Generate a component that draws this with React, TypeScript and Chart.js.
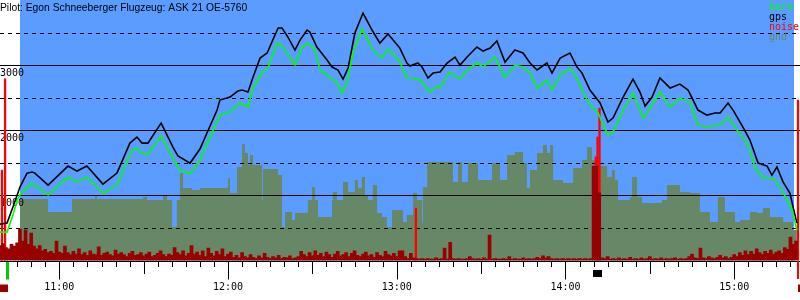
import React, { useEffect, useRef } from 'react';
import { Chart, registerables } from 'chart.js';

Chart.register(...registerables);

// Time axis: minutes after 10:00 local time
const X_MIN = 38.9;
const X_MAX = 323.4;
const Y_MIN = 0;
const Y_MAX = 4000;

const titleText = 'Pilot: Egon Schneeberger Flugzeug: ASK 21 OE-5760';
const legendLabels = ['baro', 'gps', 'noise', 'gnd'];

const hourTicks = [60, 120, 180, 240, 300];
const hourLabels = ['11:00', '12:00', '13:00', '14:00', '15:00'];
const altSolid = [1000, 2000, 3000];
const altDashed = [500, 1500, 2500, 3500];
const altLabels = ['1000', '2000', '3000'];

const flightStart = 46.0;
const flightEnd = 321.3;
const takeoffMark = 41.4;
const engineMarks = [38.9, 322.7];
const landingMark = 322.7;
const blackMark = 249.8;

const gpsTime = [38.9, 41.4, 43.5, 46.0, 48.5, 50.3, 51.3, 56.0, 63.1, 66.3, 69.8, 75.5, 80.5, 85.1, 87.6, 89.4, 91.5, 96.2, 100.4, 102.2, 106.5, 110.0, 112.5, 116.1, 117.1, 120.7, 123.5, 125.0, 127.1, 128.9, 131.4, 133.9, 135.6, 137.8, 139.2, 141.3, 143.8, 145.6, 148.1, 149.1, 151.6, 155.2, 157.0, 159.1, 160.9, 162.7, 165.1, 168.0, 171.2, 174.0, 176.9, 181.1, 183.6, 184.7, 187.5, 189.0, 191.1, 192.9, 195.4, 197.9, 200.7, 202.5, 205.0, 208.5, 210.7, 213.2, 215.6, 218.5, 222.0, 224.9, 227.4, 229.9, 233.4, 235.2, 238.1, 241.6, 244.1, 245.9, 248.7, 252.3, 255.1, 256.9, 260.5, 264.0, 266.5, 268.3, 270.8, 273.6, 277.2, 280.7, 283.6, 285.4, 287.1, 290.3, 293.2, 295.0, 297.8, 299.6, 303.1, 305.6, 308.5, 311.7, 313.4, 315.2, 317.4, 319.8, 322.3];
const gpsAlt = [559, 574, 820, 1127, 1342, 1358, 1342, 1158, 1450, 1373, 1450, 1174, 1342, 1803, 1895, 1803, 1803, 2110, 1742, 1604, 1496, 1711, 1957, 2310, 2464, 2510, 2602, 2617, 2587, 2817, 3109, 3186, 3355, 3570, 3570, 3431, 3232, 3385, 3539, 3508, 3278, 3078, 2971, 2925, 2786, 2955, 3493, 3800, 3539, 3339, 3478, 3262, 3032, 2986, 3032, 2971, 2802, 2878, 2894, 3032, 3124, 3001, 3124, 3278, 3216, 3262, 3370, 3047, 3232, 3186, 3032, 2925, 3032, 2878, 3109, 3186, 2971, 2878, 2617, 2418, 2126, 2187, 2510, 2786, 2587, 2372, 2510, 2802, 2648, 2709, 2617, 2464, 2310, 2233, 2264, 2264, 2418, 2310, 2049, 1849, 1496, 1450, 1312, 1435, 1204, 1035, 574];

const baroTime = [38.9, 41.4, 43.5, 45.0, 46.4, 50.3, 56.0, 63.1, 66.3, 69.8, 75.5, 80.5, 85.8, 87.6, 89.4, 91.5, 96.2, 102.9, 106.5, 110.0, 113.6, 117.1, 120.7, 124.2, 127.1, 128.9, 132.1, 134.2, 137.4, 139.5, 143.8, 146.3, 148.4, 150.9, 152.7, 156.3, 158.7, 160.5, 162.3, 164.4, 167.6, 171.5, 174.7, 176.9, 181.1, 183.6, 185.8, 188.3, 191.8, 194.3, 195.4, 198.9, 202.5, 205.0, 208.5, 210.7, 214.9, 218.5, 222.0, 224.9, 227.4, 229.9, 233.4, 235.2, 238.1, 241.6, 244.1, 246.2, 248.7, 251.6, 255.1, 256.9, 260.5, 264.0, 267.6, 270.1, 273.6, 277.2, 280.7, 284.3, 287.1, 290.3, 295.0, 297.8, 301.0, 304.6, 307.4, 310.2, 312.7, 314.5, 317.0, 320.6, 322.3];
const baroAlt = [436, 436, 697, 928, 1035, 1189, 1005, 1281, 1204, 1281, 1035, 1158, 1696, 1726, 1650, 1634, 1911, 1389, 1327, 1542, 1895, 2233, 2279, 2418, 2356, 2648, 2894, 2955, 3339, 3278, 3001, 3278, 3339, 3232, 2925, 2817, 2740, 2571, 2725, 3186, 3554, 3232, 3109, 3247, 3047, 2802, 2802, 2771, 2587, 2679, 2663, 2894, 2786, 2925, 3032, 2971, 3124, 2817, 3001, 2971, 2878, 2648, 2771, 2617, 2848, 2955, 2802, 2587, 2387, 2264, 1926, 1972, 2310, 2571, 2187, 2341, 2587, 2356, 2494, 2433, 2080, 2049, 2080, 2203, 2003, 1803, 1435, 1266, 1266, 1235, 1081, 774, 467];

const gndTime = [46.0, 56.0, 64.5, 72.7, 73.4, 89.8, 91.2, 96.9, 98.3, 100.1, 101.8, 102.9, 104.0, 107.2, 110.0, 119.6, 120.0, 120.7, 123.2, 125.0, 126.0, 127.1, 127.8, 128.9, 132.1, 132.4, 137.8, 139.2, 140.3, 142.7, 143.8, 148.4, 149.9, 150.9, 152.0, 157.0, 157.3, 158.7, 160.9, 162.7, 165.1, 166.2, 167.6, 168.7, 169.8, 171.5, 173.0, 174.7, 176.5, 178.3, 182.2, 183.6, 185.8, 187.2, 189.0, 189.3, 190.8, 200.0, 201.8, 203.2, 205.3, 208.9, 213.9, 216.7, 219.2, 222.0, 224.9, 226.3, 227.4, 229.9, 232.0, 233.4, 234.5, 235.6, 239.1, 242.7, 245.9, 247.7, 249.4, 252.3, 254.8, 256.5, 257.6, 258.7, 262.9, 263.7, 265.4, 267.2, 274.3, 276.1, 280.7, 284.3, 287.8, 291.4, 294.2, 296.7, 300.3, 302.1, 305.6, 308.1, 310.2, 312.7, 317.4, 320.9, 322.3];
const gndAlt = [943, 743, 943, 989, 943, 974, 928, 989, 928, 513, 928, 1342, 1112, 1081, 1112, 1127, 1266, 1035, 1435, 1788, 1650, 1465, 1619, 1465, 928, 1404, 1312, 513, 743, 621, 728, 928, 1127, 928, 667, 928, 1051, 928, 1204, 1051, 1235, 1112, 1281, 1005, 928, 1158, 728, 667, 513, 774, 590, 697, 1035, 928, 574, 1127, 1511, 1204, 1511, 1204, 1496, 1235, 1496, 1235, 1619, 1665, 1496, 1112, 1389, 1650, 1773, 1650, 1773, 1235, 1189, 1419, 1542, 1742, 1542, 1450, 1281, 1389, 1235, 928, 974, 1281, 974, 882, 928, 1158, 1051, 1035, 743, 590, 974, 743, 590, 621, 743, 728, 805, 667, 590, 467, 467];

// noise: one value per minute, starting at minute 39
const noiseStart = 39;
const noiseLevel = [
  230, 260, 200, 180, 250, 220, 270, 480, 300, 470, 250, 420, 220, 180, 230, 150, 170, 120, 140, 110, 300, 130,
  110, 220, 120, 90, 140, 100, 180, 90, 120, 80, 150, 100, 90, 210, 80, 110, 130, 90, 70, 160, 100, 120, 90, 60,
  110, 140, 80, 90, 120, 70, 100, 130, 60, 80, 110, 150, 90, 60, 100, 80, 200, 120, 90, 150, 70, 110, 230, 100,
  130, 80, 150, 60, 190, 110, 70, 140, 90, 180, 60, 100, 130, 50, 80, 40, 120, 60, 40, 90, 50, 30, 70, 40, 110,
  50, 30, 60, 40, 80, 30, 50, 40, 70, 30, 40, 60, 140, 90, 60, 120, 70, 150, 80, 110, 60, 130, 90, 50, 100, 140,
  70, 90, 120, 60, 110, 150, 80, 60, 100, 130, 70, 90, 50, 120, 80, 60, 140, 90, 70, 110, 60, 150,
  150, 60, 30, 110, 40, 30, 20, 30, 20, 30, 20, 20, 40, 20, 30, 190, 20, 280, 30, 20, 30, 20, 20, 30, 60, 30,
  20, 30, 20, 40, 20, 390, 20, 30, 20, 20, 30, 20, 60, 20, 30, 20, 20, 40, 20, 30, 20, 30, 50, 30, 70, 40, 60,
  30, 20, 30, 20, 30, 20, 30, 20, 30, 20, 30, 20, 30, 20, 30, 1450, 1450, 1040,
  40, 30, 60, 20, 30, 20, 40, 20, 30, 20, 50, 20, 30, 20, 40, 20, 30, 60, 20, 30, 20, 40, 20, 30, 20, 30, 40,
  20, 30, 20, 30, 60, 100, 40, 30, 190, 40, 30, 60, 40, 30, 50, 80, 40, 60, 30, 50, 90, 60, 120, 80, 150, 90,
  140, 100, 180, 120, 90, 140, 110, 160, 100, 130, 150, 110, 200, 170, 360, 250, 300,
];

const peakTime = [39.6, 40.7, 186.8, 250.8, 251.4, 252.1, 322.7];
const peakLevel = [1390, 2790, 805, 1590, 1895, 2340, 2464];

const SKY = '#5a9cff';
const GND = '#668866';
const NOISE = '#990000';
const PEAK = '#ff0000';
const BARO = '#00ff00';
const GPS = '#000000';
const legendColors = [BARO, GPS, PEAK, GND];
const MONO = '10px "DejaVu Sans Mono", monospace';
const GRID_BEFORE_INDEX = 2; // grid is drawn just before the noise peaks

const pts = (ts: number[], vs: number[]) => ts.map((t, i) => ({ x: t, y: vs[i] }));

const flightPlugin = {
  id: 'flightDecor',
  beforeDatasetsDraw(chart: any) {
    const { ctx, chartArea: ca, scales } = chart;
    const x0 = scales.x.getPixelForValue(flightStart);
    const x1 = scales.x.getPixelForValue(flightEnd);
    ctx.save();
    ctx.fillStyle = SKY;
    ctx.fillRect(Math.round(x0), ca.top, Math.round(x1) - Math.round(x0), ca.bottom - ca.top);
    ctx.restore();
  },
  beforeDatasetDraw(chart: any, args: any) {
    if (args.index !== GRID_BEFORE_INDEX) return;
    const { ctx, chartArea: ca, scales } = chart;
    const ys = scales.y;
    ctx.save();
    ctx.strokeStyle = '#000';
    ctx.lineWidth = 1;
    ctx.setLineDash([]);
    ctx.beginPath();
    altSolid.forEach((v) => {
      const py = Math.round(ys.getPixelForValue(v)) + 0.5;
      ctx.moveTo(ca.left, py);
      ctx.lineTo(ca.right, py);
    });
    ctx.stroke();
    ctx.setLineDash([4, 4]);
    ctx.beginPath();
    altDashed.forEach((v) => {
      const py = Math.round(ys.getPixelForValue(v)) + 0.5;
      ctx.moveTo(ca.left, py);
      ctx.lineTo(ca.right, py);
    });
    ctx.stroke();
    ctx.setLineDash([]);
    ctx.fillStyle = '#000';
    ctx.font = MONO;
    ctx.textAlign = 'left';
    ctx.textBaseline = 'alphabetic';
    altSolid.forEach((v, i) => {
      ctx.fillText(altLabels[i], ca.left, ys.getPixelForValue(v) + 11);
    });
    ctx.restore();
  },
  afterDraw(chart: any) {
    const { ctx, chartArea: ca, scales } = chart;
    const xs = scales.x;
    const b = ca.bottom;
    ctx.save();
    // axis line
    ctx.strokeStyle = '#000';
    ctx.lineWidth = 1;
    ctx.beginPath();
    const ay = Math.round(b) + 0.5;
    ctx.moveTo(ca.left, ay);
    ctx.lineTo(ca.right, ay);
    // ticks every 5 minutes, longer at half hours and hours
    const first = Math.ceil(takeoffMark / 5) * 5;
    for (let m = first; m <= X_MAX; m += 5) {
      const px = Math.round(xs.getPixelForValue(m)) + 0.5;
      const len = m % 60 === 0 ? 17.5 : m % 30 === 0 ? 12 : 5;
      ctx.moveTo(px, ay + 0.5);
      ctx.lineTo(px, ay + 0.5 + len);
    }
    ctx.stroke();
    // hour labels
    ctx.fillStyle = '#000';
    ctx.font = MONO;
    ctx.textAlign = 'center';
    ctx.textBaseline = 'alphabetic';
    hourTicks.forEach((m, i) => {
      ctx.fillText(hourLabels[i], xs.getPixelForValue(m), b + 29);
    });
    // event markers under the axis
    ctx.fillStyle = '#00cc00';
    ctx.fillRect(Math.round(xs.getPixelForValue(takeoffMark)) - 1, ay + 0.5, 3, 17.5);
    ctx.fillStyle = NOISE;
    engineMarks.forEach((m) => {
      ctx.fillRect(Math.round(xs.getPixelForValue(m)), b + 24, 8, 7.5);
    });
    ctx.fillStyle = '#000';
    ctx.fillRect(Math.round(xs.getPixelForValue(blackMark)), b + 9.5, 9, 7);
    ctx.fillStyle = PEAK;
    ctx.fillRect(Math.round(xs.getPixelForValue(landingMark)) - 1, b, 2, 18.5);
    // title
    ctx.textAlign = 'left';
    ctx.fillStyle = '#000';
    ctx.font = '10.3px "Liberation Sans", Arial, sans-serif';
    ctx.fillText(titleText, ca.left, ca.top + 10.5);
    // legend
    ctx.font = MONO;
    legendLabels.forEach((lab, i) => {
      ctx.fillStyle = legendColors[i];
      ctx.fillText(lab, 769, ca.top + 10 + i * 10);
    });
    ctx.restore();
  },
};

export default function App() {
  const ref = useRef<HTMLCanvasElement | null>(null);
  useEffect(() => {
    document.body.style.margin = '0';
    const canvas = ref.current;
    if (!canvas) return;
    const chart = new Chart(canvas, {
      type: 'line',
      data: {
        datasets: [
          {
            type: 'line',
            label: 'baro',
            data: pts(baroTime, baroAlt),
            borderColor: BARO,
            borderWidth: 1.6,
            pointRadius: 0,
            tension: 0,
            fill: false,
            order: 0,
          },
          {
            type: 'line',
            label: 'gps',
            data: pts(gpsTime, gpsAlt),
            borderColor: GPS,
            borderWidth: 1.6,
            pointRadius: 0,
            tension: 0,
            fill: false,
            order: 1,
          },
          {
            type: 'bar',
            label: 'noise peak',
            data: pts(peakTime, peakLevel),
            backgroundColor: PEAK,
            borderWidth: 0,
            barThickness: 1.6,
            grouped: false,
            order: 3,
          },
          {
            type: 'bar',
            label: 'noise',
            data: noiseLevel.map((v, i) => ({ x: noiseStart + i, y: v })),
            backgroundColor: NOISE,
            borderWidth: 0,
            barThickness: 3,
            grouped: false,
            order: 2,
          },
          {
            type: 'line',
            label: 'gnd',
            data: pts(gndTime, gndAlt),
            borderWidth: 0,
            borderColor: GND,
            backgroundColor: GND,
            pointRadius: 0,
            stepped: true,
            fill: 'origin',
            order: 4,
          },
        ],
      } as any,
      options: {
        animation: false,
        responsive: false,
        maintainAspectRatio: false,
        events: [],
        layout: { padding: { left: 0, right: 0, top: 0, bottom: 39.5 } },
        plugins: {
          legend: { display: false },
          tooltip: { enabled: false },
          title: { display: false },
        },
        scales: {
          x: { type: 'linear', min: X_MIN, max: X_MAX, display: false, offset: false },
          y: { type: 'linear', min: Y_MIN, max: Y_MAX, display: false },
        },
      } as any,
      plugins: [flightPlugin],
    });
    return () => chart.destroy();
  }, []);
  return <canvas ref={ref} width={800} height={300} style={{ display: 'block' }} />;
}
